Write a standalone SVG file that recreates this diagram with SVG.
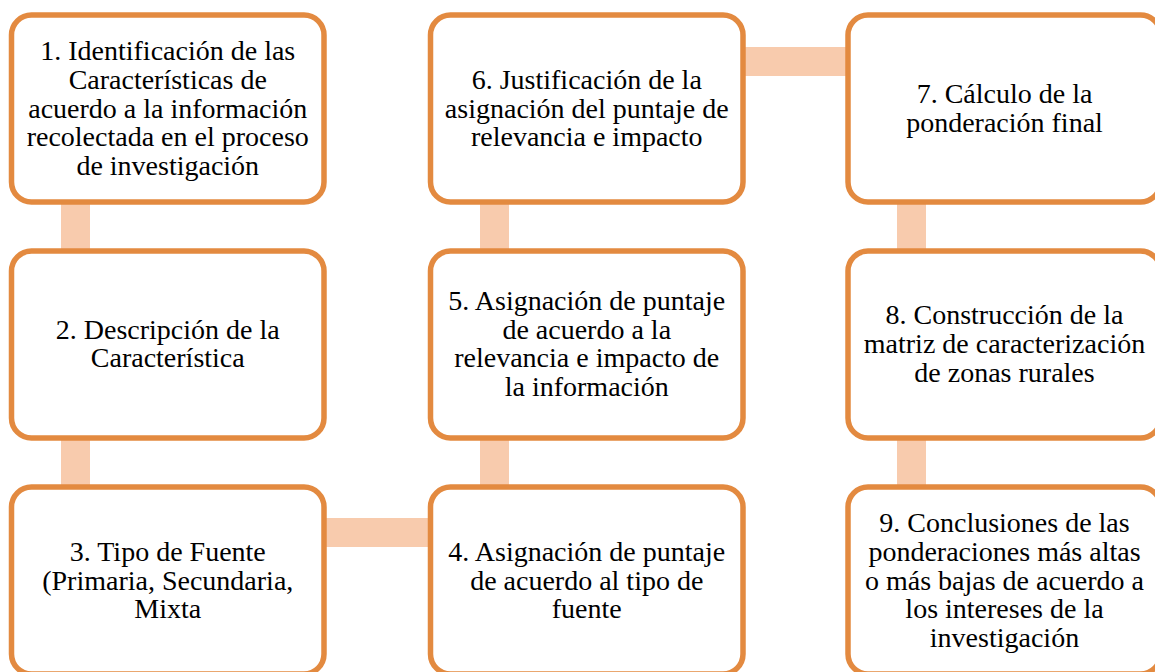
<svg xmlns="http://www.w3.org/2000/svg" width="1155" height="672" viewBox="0 0 1155 672">
<defs>
<rect id="bx" width="312.5" height="187" rx="20" fill="#ffffff" stroke="#E38A40" stroke-width="5.5"/>
</defs>
<rect width="1155" height="672" fill="#ffffff"/>
<g id="connectors" fill="#F8CBAD">
<rect x="61" y="200" width="29" height="53"/>
<rect x="61" y="435" width="29" height="54"/>
<rect x="480" y="200" width="29" height="53"/>
<rect x="480" y="435" width="29" height="54"/>
<rect x="897" y="200" width="29" height="53"/>
<rect x="897" y="435" width="29" height="54"/>
<rect x="322" y="518" width="110" height="29"/>
<rect x="741" y="47" width="109" height="29"/>
</g>
<g font-family="Liberation Serif" font-size="28" text-anchor="middle" fill="#000000">
<g id="node1">
<use href="#bx" x="11.5" y="15"/>
<text x="167.75" y="60.1">1. Identificación de las</text>
<text x="167.75" y="88.8">Características de</text>
<text x="167.75" y="117.5">acuerdo a la información</text>
<text x="167.75" y="146.2">recolectada en el proceso</text>
<text x="167.75" y="174.9">de investigación</text>
</g>
<g id="node2">
<use href="#bx" x="11.5" y="251"/>
<text x="167.75" y="338.65">2. Descripción de la</text>
<text x="167.75" y="367.35">Característica</text>
</g>
<g id="node3">
<use href="#bx" x="11.5" y="487"/>
<text x="167.75" y="560.8">3. Tipo de Fuente</text>
<text x="167.75" y="589.5">(Primaria, Secundaria,</text>
<text x="167.75" y="618.2">Mixta</text>
</g>
<g id="node4">
<use href="#bx" x="430.5" y="487"/>
<text x="586.75" y="560.8">4. Asignación de puntaje</text>
<text x="586.75" y="589.5">de acuerdo al tipo de</text>
<text x="586.75" y="618.2">fuente</text>
</g>
<g id="node5">
<use href="#bx" x="430.5" y="251"/>
<text x="586.75" y="309.95">5. Asignación de puntaje</text>
<text x="586.75" y="338.65">de acuerdo a la</text>
<text x="586.75" y="367.35">relevancia e impacto de</text>
<text x="586.75" y="396.05">la información</text>
</g>
<g id="node6">
<use href="#bx" x="430.5" y="15"/>
<text x="586.75" y="88.8">6. Justificación de la</text>
<text x="586.75" y="117.5">asignación del puntaje de</text>
<text x="586.75" y="146.2">relevancia e impacto</text>
</g>
<g id="node7">
<use href="#bx" x="848" y="15"/>
<text x="1004.5" y="103.15">7. Cálculo de la</text>
<text x="1004.5" y="131.85">ponderación final</text>
</g>
<g id="node8">
<use href="#bx" x="848" y="251"/>
<text x="1004.5" y="324.3">8. Construcción de la</text>
<text x="1004.5" y="353">matriz de caracterización</text>
<text x="1004.5" y="381.7">de zonas rurales</text>
</g>
<g id="node9">
<use href="#bx" x="848" y="487"/>
<text x="1004.5" y="532.1">9. Conclusiones de las</text>
<text x="1004.5" y="560.8">ponderaciones más altas</text>
<text x="1004.5" y="589.5">o más bajas de acuerdo a</text>
<text x="1004.5" y="618.2">los intereses de la</text>
<text x="1004.5" y="646.9">investigación</text>
</g>
</g>
</svg>
